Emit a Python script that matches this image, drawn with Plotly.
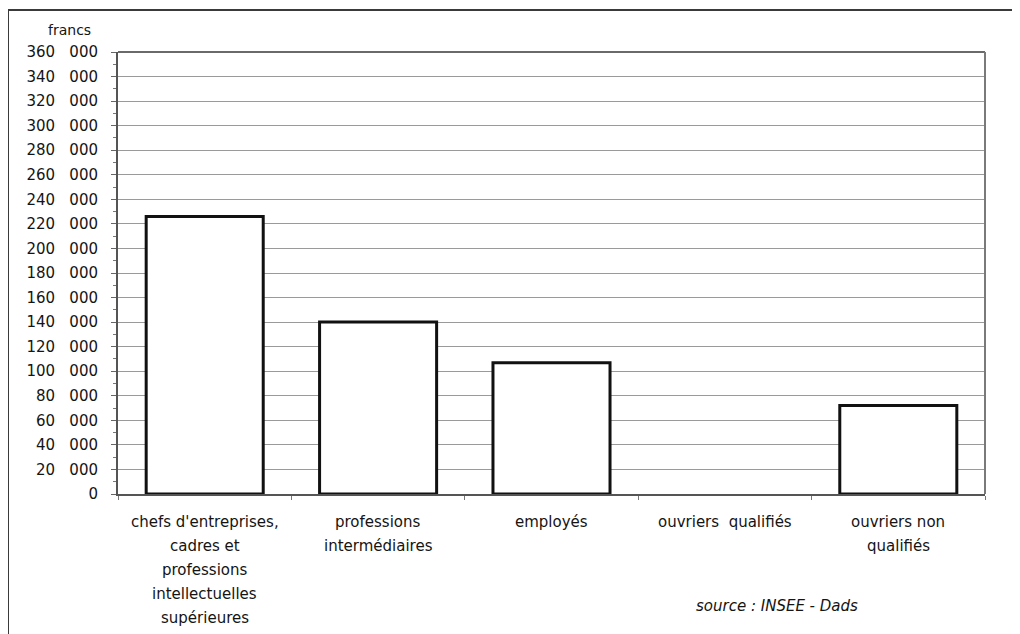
import plotly.graph_objects as go

categories = [
    "chefs d'entreprises,\ncadres et\nprofessions\nintellectuelles\nsupérieures",
    "professions\nintermédiaires",
    "employés",
    "ouvriers  qualifiés",
    "ouvriers non\nqualifiés",
]
values = [226000, 140000, 107000, None, 72000]
tick_values = list(range(0, 360001, 20000))
tick_labels = ["0" if v == 0 else f"{v // 1000}\u00a0\u00a0\u00a0000" for v in tick_values]
unit_label = "francs"
source_label = "source : INSEE - Dads"

FONT = "DejaVu Sans"
TXT = "#141414"

# the page body has an 8px margin; plot area in page pixels: x 118..985, y 52..494
OFF = 8
PL, PR, PT, PB = 118, 985, 52, 494
PW, PH = PR - PL, PB - PT


def px(xp):
    return (xp - PL) / PW


def py(yp):
    return (PB - yp) / PH


fig = go.Figure()
fig.add_trace(go.Bar(
    x=categories, y=values,
    marker=dict(color="white", line=dict(color="#111111", width=3)),
    width=0.675,
    showlegend=False,
))

annotations = []
for cat in categories:
    for i, line in enumerate(cat.split("\n")):
        annotations.append(dict(
            x=cat, xref="x", y=0, yref="paper",
            text=line.replace("  ", "\u00a0\u00a0"), showarrow=False,
            xanchor="center", yanchor="middle",
            yshift=-(28 + 24 * i),
            font=dict(family=FONT, size=15, color=TXT),
        ))
annotations.append(dict(
    x=px(69), xref="paper", y=py(30), yref="paper",
    text=unit_label, showarrow=False, xanchor="center", yanchor="middle",
    font=dict(family=FONT, size=14, color=TXT),
))
annotations.append(dict(
    x=px(777), xref="paper", y=py(606), yref="paper",
    text="<i>" + source_label + "</i>", showarrow=False, xanchor="center", yanchor="middle",
    font=dict(family=FONT, size=15, color=TXT),
))

shapes = [
    dict(type="rect", xref="paper", yref="paper",
         x0=px(8), x1=px(1040), y0=py(660), y1=py(10),
         line=dict(color="#3a3a3a", width=2), fillcolor="rgba(0,0,0,0)", layer="below"),
    dict(type="line", xref="paper", yref="paper", x0=0, x1=1, y0=1, y1=1,
         line=dict(color="#6a6a6a", width=2)),
    dict(type="line", xref="paper", yref="paper", x0=1, x1=1, y0=0, y1=1,
         line=dict(color="#7a7a7a", width=2)),
]

fig.update_layout(
    width=1020 - OFF, height=634 - OFF,
    margin=dict(l=PL - OFF, r=1020 - PR, t=PT - OFF, b=634 - PB),
    paper_bgcolor="white", plot_bgcolor="white",
    bargap=0.325,
    annotations=annotations,
    shapes=shapes,
    font=dict(family=FONT, size=15, color=TXT),
)
fig.update_xaxes(
    type="category", showticklabels=False,
    showline=True, linecolor="#555555", linewidth=2,
    ticks="outside", tickson="boundaries", ticklen=4, tickcolor="#777777",
    showgrid=False, range=[-0.5, 4.5],
)
fig.update_yaxes(
    range=[0, 360000], tickvals=tick_values, ticktext=tick_labels,
    showline=True, linecolor="#555555", linewidth=2,
    ticks="outside", ticklen=5, tickcolor="#666666",
    minor=dict(ticks="outside", ticklen=3, dtick=10000, tickcolor="#777777", showgrid=False),
    showgrid=True, gridcolor="#9a9a9a", gridwidth=1,
    tickfont=dict(family=FONT, size=15, color=TXT),
    ticklabelstandoff=10,
    zeroline=False,
)

fig.write_html("out.html")
